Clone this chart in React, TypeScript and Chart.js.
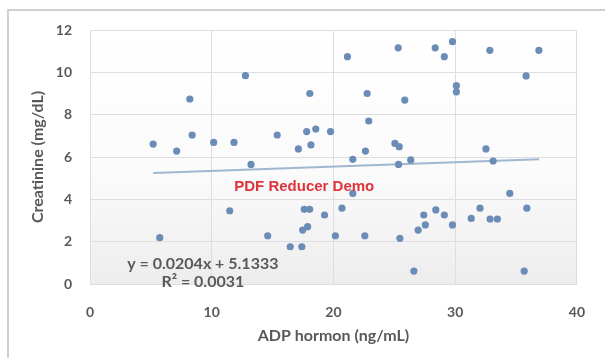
import { useEffect, useRef } from "react";
import { Chart, registerables } from "chart.js";

Chart.register(...registerables);

const adpHormon = [
  5.19, 7.12, 8.2, 8.39, 10.16, 11.83, 12.77, 13.23, 15.38, 17.12, 17.8, 18.55, 18.15, 18.06, 19.76,
  5.73, 11.48, 14.6, 16.45, 17.4, 17.47, 17.88, 17.6, 18.05, 19.27, 20.16,
  21.15, 25.32, 28.36, 29.11, 29.78, 32.85, 36.88, 35.83, 30.1, 30.1, 22.77, 25.86, 22.9, 22.63,
  21.59, 25.05, 25.4, 25.35, 26.35, 32.53, 33.12,
  21.59, 20.7, 22.58, 25.46, 26.61, 26.96, 27.55, 27.42, 28.41, 29.11, 29.78, 31.32, 32.04, 32.87,
  33.47, 34.49, 35.89, 35.67,
];
const creatinine = [
  6.61, 6.28, 8.74, 7.04, 6.69, 6.69, 9.84, 5.65, 7.04, 6.38, 7.2, 7.32, 6.57, 9.0, 7.2,
  2.19, 3.46, 2.28, 1.76, 1.76, 2.55, 2.71, 3.53, 3.53, 3.26, 2.28,
  10.74, 11.16, 11.16, 10.74, 11.45, 11.04, 11.04, 9.83, 9.37, 9.08, 9.0, 8.69, 7.7, 6.28,
  5.89, 6.64, 6.49, 5.65, 5.86, 6.38, 5.81,
  4.28, 3.58, 2.28, 2.16, 0.61, 2.55, 2.79, 3.26, 3.5, 3.26, 2.79, 3.1, 3.58, 3.07,
  3.07, 4.28, 3.58, 0.61,
];
const trendX = [5.2, 36.9];
const trendY = [5.24, 5.89];
const xTickValues = [0, 10, 20, 30, 40];
const yTickValues = [0, 2, 4, 6, 8, 10, 12];
const xTitle = "ADP hormon (ng/mL)";
const yTitle = "Creatinine (mg/dL)";
const equationLine = "y = 0.0204x + 5.1333";
const rSquaredLine = "R\u00b2 = 0.0031";
const watermarkText = "PDF Reducer Demo";

export default function App() {
  const canvasRef = useRef<HTMLCanvasElement | null>(null);

  useEffect(() => {
    const canvas = canvasRef.current;
    if (!canvas) return;

    const frame = {
      id: "frame",
      beforeDraw(chart: any) {
        const { ctx, chartArea } = chart;
        ctx.save();
        ctx.fillStyle = "#ffffff";
        ctx.fillRect(0, 0, chart.width, chart.height);
        const g = ctx.createLinearGradient(0, chartArea.top, 0, chartArea.bottom);
        g.addColorStop(0, "#ffffff");
        g.addColorStop(0.55, "#fbfbfb");
        g.addColorStop(1, "#ededed");
        ctx.fillStyle = g;
        ctx.fillRect(chartArea.left, chartArea.top, chartArea.right - chartArea.left, chartArea.bottom - chartArea.top);
        ctx.strokeStyle = "#d0d0d0";
        ctx.lineWidth = 2;
        ctx.beginPath();
        ctx.moveTo(8, chart.height + 2);
        ctx.lineTo(8, 10);
        ctx.lineTo(chart.width + 2, 10);
        ctx.stroke();
        ctx.restore();
      },
      afterDatasetsDraw(chart: any) {
        const { ctx, scales } = chart;
        const xs = scales.x;
        const ys = scales.y;
        ctx.save();
        ctx.textAlign = "center";
        ctx.textBaseline = "middle";
        ctx.fillStyle = "#595959";
        ctx.font = "bold 16px Lato";
        ctx.fillText(equationLine, xs.getPixelForValue(9.27), ys.getPixelForValue(0.94));
        ctx.fillText(rSquaredLine, xs.getPixelForValue(9.27), ys.getPixelForValue(0.09));
        ctx.fillStyle = "#e0343c";
        ctx.font = "bold 15px 'Liberation Sans'";
        ctx.fillText(watermarkText, xs.getPixelForValue(17.6), ys.getPixelForValue(4.58));
        ctx.restore();
      },
    };

    const chart = new Chart(canvas, {
      type: "scatter",
      data: {
        datasets: [
          {
            type: "line",
            label: "Trend",
            data: trendX.map((x, i) => ({ x, y: trendY[i] })),
            borderColor: "#9fb7d0",
            borderWidth: 2,
            pointRadius: 0,
            fill: false,
            order: 2,
          } as any,
          {
            label: "Creatinine",
            data: adpHormon.map((x, i) => ({ x, y: creatinine[i] })),
            backgroundColor: "#6a8cb6",
            borderColor: "#6a8cb6",
            pointRadius: 3.6,
            pointBorderWidth: 0,
            order: 1,
          },
        ],
      },
      options: {
        animation: false,
        responsive: false,
        maintainAspectRatio: false,
        layout: { padding: { left: 0, top: 30, right: 19, bottom: 0 } },
        plugins: { legend: { display: false }, tooltip: { enabled: false } },
        scales: {
          x: {
            type: "linear",
            min: 0,
            max: 40,
            afterBuildTicks: (s: any) => {
              s.ticks = xTickValues.map((v) => ({ value: v }));
            },
            afterFit: (s: any) => {
              s.height = 74;
            },
            grid: { color: "#dedede", drawTicks: false, lineWidth: 1 },
            border: { display: true, color: "#dedede" },
            ticks: {
              padding: 20,
              color: "#595959",
              font: { family: "Lato", size: 14, weight: "bold" },
            },
            title: {
              display: true,
              text: xTitle,
              color: "#595959",
              padding: { top: 0, bottom: 13 },
              font: { family: "Lato", size: 16, weight: "bold" },
            },
          },
          y: {
            type: "linear",
            min: 0,
            max: 12,
            afterBuildTicks: (s: any) => {
              s.ticks = yTickValues.map((v) => ({ value: v }));
            },
            afterFit: (s: any) => {
              s.width = 90;
            },
            grid: { color: "#dedede", drawTicks: false, lineWidth: 1 },
            border: { display: true, color: "#dedede" },
            ticks: {
              padding: 18,
              color: "#595959",
              font: { family: "Lato", size: 14, weight: "bold" },
            },
            title: {
              display: true,
              text: yTitle,
              color: "#595959",
              padding: { top: 28, bottom: 0 },
              font: { family: "Lato", size: 16, weight: "bold" },
            },
          },
        },
      },
      plugins: [frame],
    });

    return () => chart.destroy();
  }, []);

  return (
    <div style={{ position: "fixed", left: 0, top: 0, width: 605, height: 358 }}>
      <canvas ref={canvasRef} width={605} height={358} style={{ display: "block" }} />
    </div>
  );
}
